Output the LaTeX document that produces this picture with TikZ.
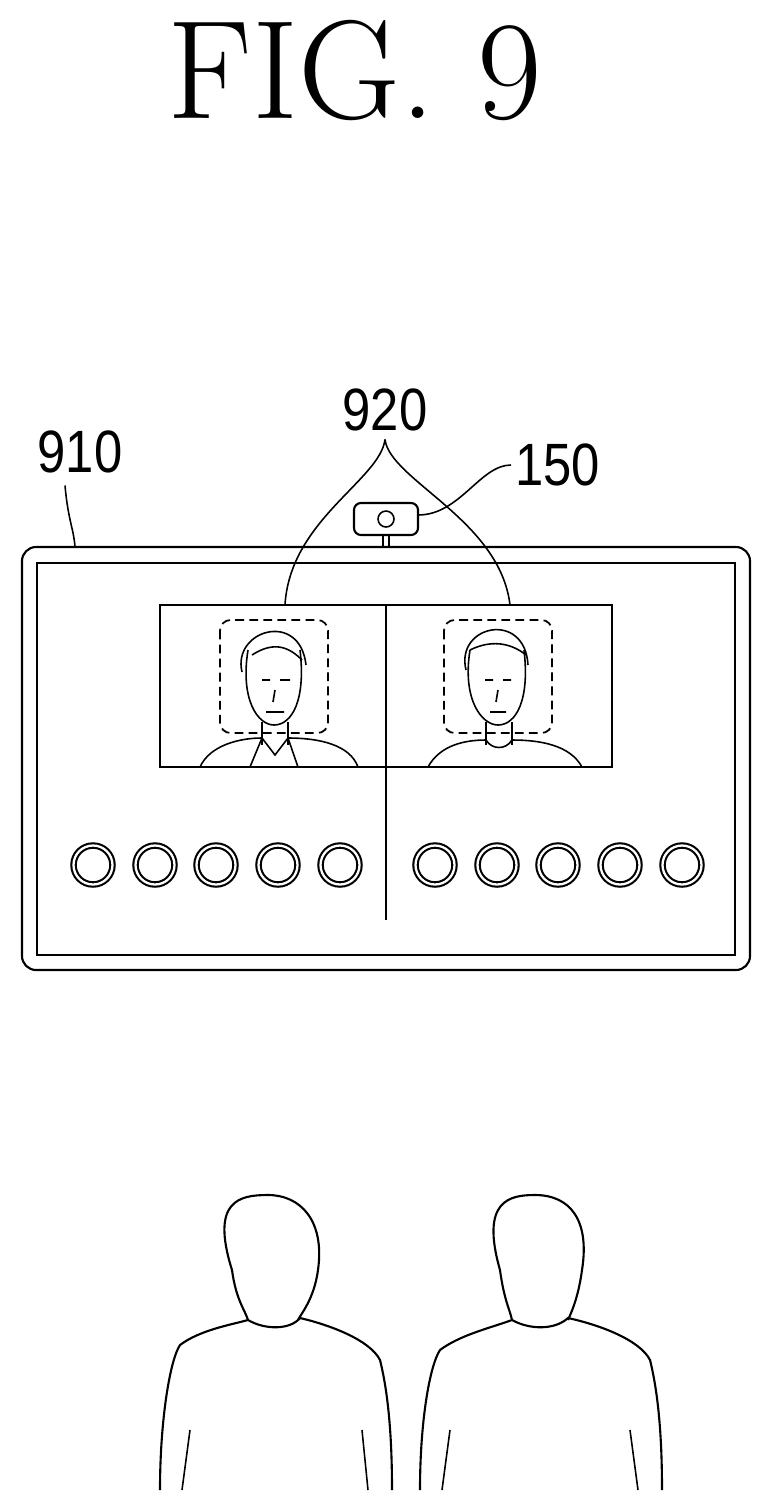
\documentclass[tikz,border=0pt]{standalone}
\usepackage{fontspec}
\newfontfamily\labelfont{Liberation Sans}
\usetikzlibrary{positioning}
\tikzset{
  line/.style={draw=black,line width=1.2pt},
  thin/.style={draw=black,line width=0.9pt},
  refnum/.style={font=\labelfont\fontsize{34}{36}\selectfont,inner sep=0pt,xscale=0.85},
  button/.style={circle,draw=black,line width=1.2pt,minimum size=0.78cm,double=white,double distance=1.3pt,inner sep=0pt},
  facebox/.style={draw=black,line width=1pt,dash pattern=on 5pt off 3pt,rounded corners=6pt}
}
\begin{document}
\begin{tikzpicture}[x=0.02cm,y=-0.02cm]
	\useasboundingbox (0,0) rectangle (772,1508);
	% title
	\node[font=\fontsize{80}{82}\selectfont,inner sep=0pt] (title) at (355,70) {FIG.\ 9};
	
	% display
	\draw[line,rounded corners=8pt] (22,547) rectangle (750,970);
	\draw[thin] (37,563) rectangle (735,955);
	\coordinate (tvtop) at (75,547);
	
	% camera
	\draw[line,rounded corners=4pt] (354,503) rectangle (418,535);
	\node[circle,thin,minimum size=0.32cm,inner sep=0pt] (lens) at (386,519) {};
	\draw[thin] (383,535) rectangle (389,547);
	\coordinate (cam) at (418,515);
	
	% screen with two windows
	\draw[line] (160,605) rectangle (612,767);
	\draw[line] (386,605) -- (386,920);
	\coordinate (win1) at (285,605);
	\coordinate (win2) at (510,605);
	\draw[facebox] (220,620) rectangle (328,733);
	\draw[facebox] (444,620) rectangle (552,733);
	
	% faces in windows
	\draw[thin] (248,650) .. controls (240,700) and (258,725) .. (274,725) .. controls (292,725) and (306,700) .. (300,650);
	\draw[thin] (242,672) .. controls (232,630) and (300,610) .. (306,665);
	\draw[thin] (252,655) .. controls (275,640) and (290,648) .. (302,660);
	\draw[thin] (262,680) -- (270,680) (280,680) -- (290,680) (275,690) -- (273,702) (266,712) -- (284,712);
	\draw[thin] (262,722) -- (262,745) (288,722) -- (288,745);
	\draw[thin] (200,767) .. controls (210,745) and (240,738) .. (262,738) (288,738) .. controls (320,738) and (350,745) .. (358,767);
	\draw[thin] (262,738) -- (250,767) (288,738) -- (298,767) (262,738) -- (275,755) -- (288,738);
	
	\draw[thin] (470,650) .. controls (462,700) and (482,725) .. (498,725) .. controls (516,725) and (530,700) .. (524,650);
	\draw[thin] (466,670) .. controls (455,625) and (525,610) .. (528,665);
	\draw[thin] (470,650) .. controls (490,640) and (510,642) .. (526,655);
	\draw[thin] (485,680) -- (493,680) (503,680) -- (511,680) (498,690) -- (496,702) (490,712) -- (506,712);
	\draw[thin] (486,722) -- (486,745) (512,722) -- (512,745);
	\draw[thin] (428,767) .. controls (440,745) and (465,740) .. (486,740) (512,740) .. controls (540,740) and (570,745) .. (582,767);
	\draw[thin] (486,740) .. controls (492,750) and (506,750) .. (512,740);
	
	% buttons
	\foreach \bx [count=\i] in {93,155,216,278,340,435,497,558,620,682}
		\node[button] (btn\i) at (\bx,865) {};
	
	% viewers seen from behind
	\draw[line] (232,1270) .. controls (210,1200) and (240,1195) .. (268,1195) .. controls (300,1195) and (325,1220) .. (318,1270) .. controls (314,1300) and (300,1315) .. (298,1320);
	\draw[line] (232,1270) .. controls (236,1300) and (245,1310) .. (248,1320);
	\draw[line] (160,1490) .. controls (160,1420) and (170,1360) .. (180,1345) .. controls (200,1330) and (230,1325) .. (248,1320) .. controls (265,1330) and (290,1330) .. (300,1318) .. controls (330,1325) and (370,1340) .. (380,1360) .. controls (390,1400) and (392,1450) .. (392,1490);
	\draw[thin] (190,1430) -- (182,1490) (362,1430) -- (368,1490);
	
	\draw[line] (500,1270) .. controls (480,1200) and (510,1195) .. (535,1195) .. controls (570,1195) and (590,1220) .. (582,1270) .. controls (578,1300) and (570,1315) .. (568,1320);
	\draw[line] (500,1270) .. controls (504,1300) and (510,1310) .. (512,1320);
	\draw[line] (420,1490) .. controls (420,1420) and (430,1365) .. (440,1350) .. controls (460,1335) and (490,1328) .. (512,1320) .. controls (530,1330) and (555,1330) .. (568,1318) .. controls (600,1325) and (640,1340) .. (650,1360) .. controls (660,1400) and (662,1450) .. (662,1490);
	\draw[thin] (450,1430) -- (442,1490) (630,1430) -- (638,1490);
	
	% reference numerals
	\node[refnum] (n910) at (80,452) {910};
	\node[refnum] (n920) at (385,410) {920};
	\node[refnum,anchor=west] (n150) at (515,465) {150};
	\draw[thin] (n910.south) ++(-15,12) .. controls (68,520) and (74,530) .. (tvtop);
	\draw[thin] (n920.south) ++(0,8) coordinate (tip) .. controls (380,480) and (290,520) .. (win1);
	\draw[thin] (tip) .. controls (390,480) and (500,520) .. (win2);
	\draw[thin] (n150.west) ++(-4,0) coordinate (p) .. controls (480,465) and (460,515) .. (cam);
\end{tikzpicture}
\end{document}
